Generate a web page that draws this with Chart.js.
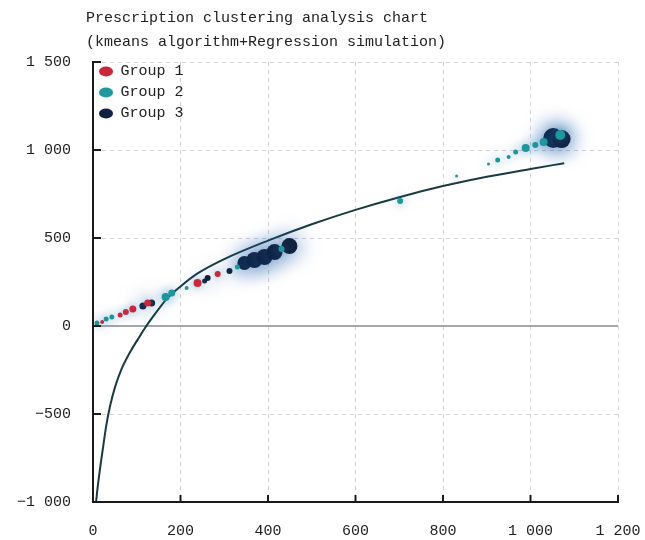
<!DOCTYPE html>
<html>
<head>
<meta charset="utf-8">
<script src="https://cdn.jsdelivr.net/npm/chart.js@4.4.1/dist/chart.umd.min.js"></script>
<style>
    html, body { margin: 0; padding: 0; background: #ffffff; }
    #wrap { width: 645px; height: 540px; }
</style>
</head>
<body>
<div id="wrap"><canvas id="clusterChart"></canvas></div>
<script>
// Chart data
const titleLines = ['Prescription clustering analysis chart', '(kmeans algorithm+Regression simulation)'];
const groupNames = ['Group 1', 'Group 2', 'Group 3'];

const group1X = [21, 62, 75, 91, 125, 239, 285];
const group1Y = [23, 62, 80, 97, 131, 244, 295];
const group1R = [2, 2.5, 3, 3.5, 3.5, 4, 3];

const group2X = [9, 30, 43, 166, 180, 214, 330, 431, 702, 831, 904, 925, 950, 966, 989, 1011, 1030, 1068];
const group2Y = [17, 40, 51, 165, 187, 216, 335, 437, 710, 852, 920, 943, 960, 988, 1011, 1028, 1045, 1085];
const group2R = [2.5, 2.5, 2.5, 4, 3.5, 2, 2.5, 3, 3, 1.5, 1.5, 2.5, 2, 2.5, 4, 3, 4, 5];

const group3X = [114, 134, 255, 262, 312, 346, 369, 392, 415, 449, 1052, 1071];
const group3Y = [114, 131, 256, 273, 312, 358, 375, 392, 420, 454, 1068, 1062];
const group3R = [3.5, 3.5, 2.5, 3, 3, 7, 8, 8, 8, 8, 10, 9];

const regressionX = [7, 10, 14, 18, 23, 30, 39, 50, 64, 84, 107, 120, 135, 150, 170, 200, 240, 300, 400, 500, 600, 700, 800, 900, 1000, 1077];
const regressionY = [-1000, -930, -850, -775, -690, -570, -455, -350, -252, -152, -58, -7, 46, 96, 158, 225, 300, 380, 485, 578, 660, 732, 795, 848, 892, 925];

const xTickLabels = ['0', '200', '400', '600', '800', '1 000', '1 200'];
const yTickLabels = ['\u22121 000', '\u2212500', '0', '500', '1 000', '1 500'];

function toPoints(xs, ys) {
    return xs.map((x, i) => ({ x: x, y: ys[i] }));
}

const labelFont = { family: '"Liberation Mono", monospace', size: 15 };

// soft halo round the cluster points
const glowPlugin = {
    id: 'glow',
    beforeDatasetDraw(chart, args) {
        const ds = chart.data.datasets[args.index];
        if (!ds.glow) return;
        chart.ctx.save();
        chart.ctx.shadowColor = ds.glow;
        chart.ctx.shadowBlur = ds.glowBlur;
    },
    afterDatasetDraw(chart, args) {
        const ds = chart.data.datasets[args.index];
        if (!ds.glow) return;
        chart.ctx.restore();
    }
};

// legend placed inside the plot, top left
const legendInside = {
    id: 'legendInside',
    afterLayout(chart) {
        const lg = chart.legend;
        if (!lg) return;
        lg.top = chart.chartArea.top - 4;
        lg.bottom = chart.chartArea.bottom;
    }
};

// zero line, inward tick marks and the two-line title
const axisExtras = {
    id: 'axisExtras',
    beforeDatasetsDraw(chart) {
        const { ctx, chartArea, scales } = chart;
        const y0 = scales.y.getPixelForValue(0);
        ctx.save();
        ctx.strokeStyle = '#8a8a8a';
        ctx.lineWidth = 1.5;
        ctx.beginPath();
        ctx.moveTo(chartArea.left, y0);
        ctx.lineTo(chartArea.right, y0);
        ctx.stroke();
        ctx.restore();
    },
    afterDraw(chart) {
        const { ctx, chartArea, scales } = chart;
        ctx.save();
        ctx.strokeStyle = '#1a1a1a';
        ctx.lineWidth = 2;
        scales.x.ticks.forEach(t => {
            const px = scales.x.getPixelForValue(t.value);
            ctx.beginPath();
            ctx.moveTo(px, chartArea.bottom);
            ctx.lineTo(px, chartArea.bottom - 7);
            ctx.stroke();
        });
        scales.y.ticks.forEach(t => {
            const py = scales.y.getPixelForValue(t.value);
            ctx.beginPath();
            ctx.moveTo(chartArea.left, py);
            ctx.lineTo(chartArea.left + 8, py);
            ctx.stroke();
        });
        ctx.fillStyle = '#222222';
        ctx.font = '15px "Liberation Mono", monospace';
        ctx.textBaseline = 'middle';
        ctx.textAlign = 'left';
        titleLines.forEach((line, i) => ctx.fillText(line, 86, 18 + i * 24));
        ctx.restore();
    }
};

const ctx = document.getElementById('clusterChart');
new Chart(ctx, {
    type: 'scatter',
    data: {
        datasets: [
            {
                label: groupNames[0],
                data: toPoints(group1X, group1Y),
                pointRadius: group1R,
                backgroundColor: '#c8283a',
                borderWidth: 0,
                pointStyle: 'circle',
                glow: 'rgba(70, 140, 200, 0.7)',
                glowBlur: 9
            },
            {
                label: groupNames[1],
                data: toPoints(group2X, group2Y),
                pointRadius: group2R,
                backgroundColor: '#1f979d',
                borderWidth: 0,
                pointStyle: 'circle',
                glow: 'rgba(30, 120, 175, 0.75)',
                glowBlur: 11
            },
            {
                label: groupNames[2],
                data: toPoints(group3X, group3Y),
                pointRadius: group3R,
                backgroundColor: '#112240',
                borderWidth: 0,
                pointStyle: 'circle',
                glow: 'rgba(28, 90, 165, 1)',
                glowBlur: 22
            },
            {
                label: 'Regression',
                data: toPoints(regressionX, regressionY),
                showLine: true,
                pointRadius: 0,
                borderColor: '#1b3a40',
                borderWidth: 2,
                cubicInterpolationMode: 'monotone'
            }
        ]
    },
    options: {
        responsive: true,
        maintainAspectRatio: false,
        animation: false,
        layout: {
            padding: { top: 62, right: 27, bottom: 0, left: 0 }
        },
        plugins: {
            tooltip: { enabled: false },
            legend: {
                position: 'chartArea',
                align: 'start',
                labels: {
                    usePointStyle: true,
                    boxHeight: 7,
                    pointStyleWidth: 14,
                    padding: 6,
                    color: '#222222',
                    font: { family: '"Liberation Mono", monospace', size: 15 },
                    filter: item => item.datasetIndex < 3
                }
            }
        },
        scales: {
            x: {
                type: 'linear',
                min: 0,
                max: 1200,
                afterFit: scale => {
                    scale.height = 38;
                    scale.paddingLeft = 0;
                    scale.paddingRight = 0;
                },
                ticks: {
                    stepSize: 200,
                    padding: 20,
                    color: '#222222',
                    font: labelFont,
                    maxRotation: 0,
                    callback: (v, i) => xTickLabels[i]
                },
                grid: {
                    color: c => (c.tick && c.tick.value === 0 ? 'rgba(0,0,0,0)' : '#d2d2d2'),
                    drawTicks: false
                },
                border: { color: '#1a1a1a', width: 2, dash: [4, 4] }
            },
            y: {
                type: 'linear',
                min: -1000,
                max: 1500,
                afterFit: scale => { scale.width = 93; },
                ticks: {
                    stepSize: 500,
                    padding: 22,
                    color: '#222222',
                    font: labelFont,
                    callback: (v, i) => yTickLabels[i]
                },
                grid: {
                    color: c => (c.tick && (c.tick.value === 0 || c.tick.value === -1000) ? 'rgba(0,0,0,0)' : '#d2d2d2'),
                    drawTicks: false
                },
                border: { color: '#1a1a1a', width: 2, dash: [4, 4] }
            }
        }
    },
    plugins: [glowPlugin, legendInside, axisExtras]
});
</script>
</body>
</html>
